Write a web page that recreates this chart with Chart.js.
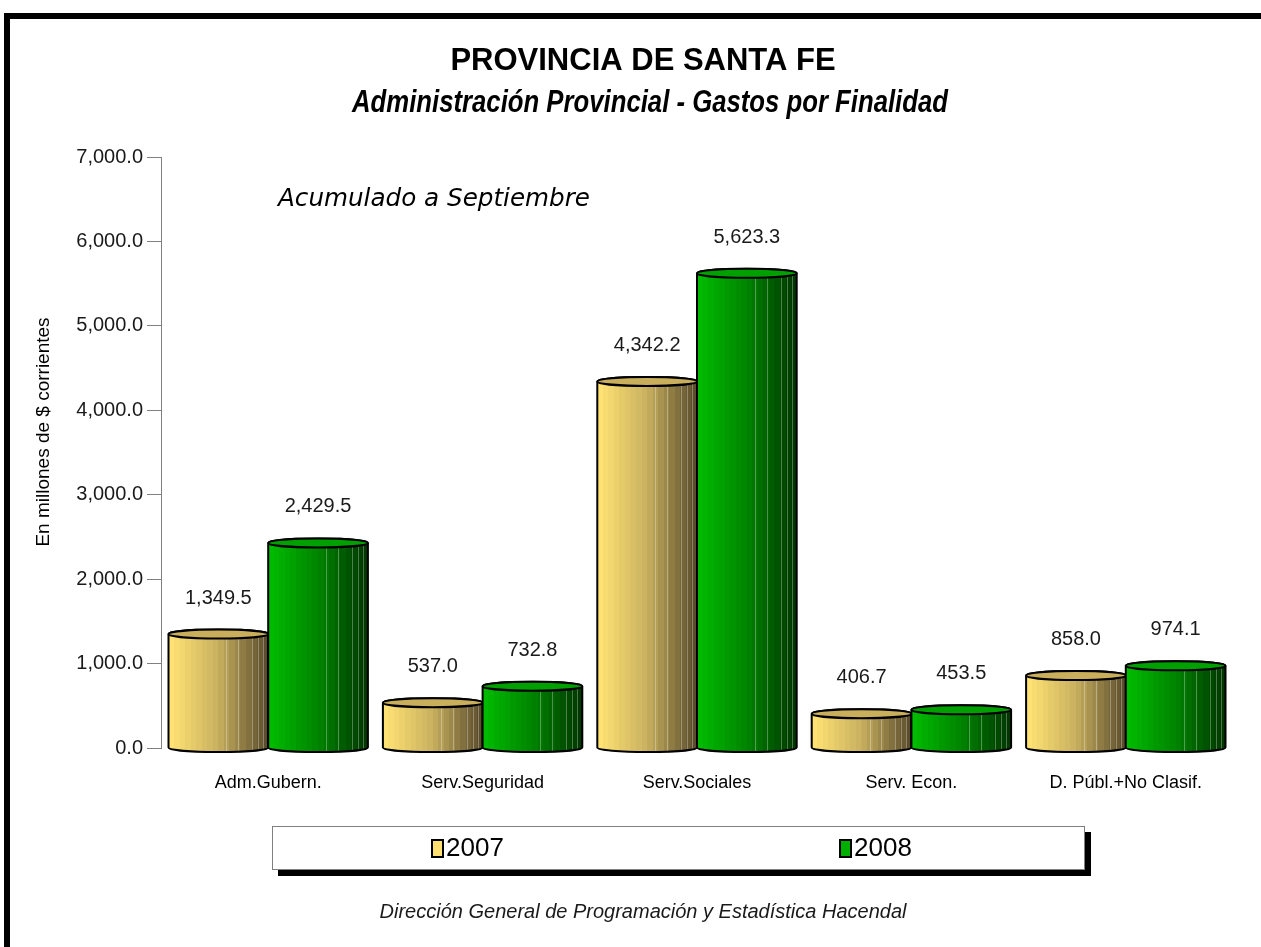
<!DOCTYPE html>
<html lang="es">
<head>
<meta charset="UTF-8" />
<title>Provincia de Santa Fe - Gastos por Finalidad</title>
<script src="https://cdn.jsdelivr.net/npm/chart.js"></script>
<style>
    body { margin: 0; background: #fff; }
    #wrap { width: 1261px; height: 947px; }
</style>
</head>
<body>
<div id="wrap"><canvas id="chart" width="1261" height="947"></canvas></div>
<script>
    const categories = ['Adm.Gubern.', 'Serv.Seguridad', 'Serv.Sociales', 'Serv. Econ.', 'D. Públ.+No Clasif.'];
    const values2007 = [1349.5, 537.0, 4342.2, 406.7, 858.0];
    const values2008 = [2429.5, 732.8, 5623.3, 453.5, 974.1];
    const seriesLabels = ['2007', '2008'];
    const yTicks = [0, 1000, 2000, 3000, 4000, 5000, 6000, 7000];

    const ARIAL = '"Liberation Sans", Arial, sans-serif';

    // colours per series: light / mid / dark for the cylinder shading, top lid, legend swatch
    const palette = [
        { light: [255, 226, 115], mid: [200, 176, 96], dark: [92, 78, 44], top: '#c9ae5c', swatch: '#ffe070' },
        { light: [0, 186, 0], mid: [0, 132, 0], dark: [0, 56, 0], top: '#00a000', swatch: '#00b000' }
    ];
    // thin highlight lines on the cylinders (fraction of bar width)
    const streaks = [0.58, 0.7, 0.84, 0.9, 0.95];

    function fmt(v) {
        return v.toLocaleString('en-US', { minimumFractionDigits: 1, maximumFractionDigits: 1 });
    }

    function mix(a, b, t) {
        return `rgb(${a.map((c, i) => Math.round(c + (b[i] - c) * t)).join(',')})`;
    }

    // banded horizontal gradient, looks like the old 3D cylinder rendering
    function cylGradient(ctx, left, right, p) {
        const g = ctx.createLinearGradient(left, 0, right, 0);
        const bands = 18;
        for (let i = 0; i < bands; i++) {
            const t = i / (bands - 1);
            const col = t < 0.5 ? mix(p.light, p.mid, t * 2) : mix(p.mid, p.dark, (t - 0.5) * 2);
            g.addColorStop(i / bands, col);
            g.addColorStop((i + 1) / bands - 0.001, col);
        }
        return g;
    }

    function bodyPath(ctx, bar, ry) {
        const left = bar.x - bar.width / 2, right = bar.x + bar.width / 2;
        const rx = bar.width / 2;
        ctx.beginPath();
        ctx.moveTo(left, bar.y);
        ctx.lineTo(left, bar.base);
        ctx.ellipse(bar.x, bar.base, rx, ry, 0, Math.PI, 0, true);
        ctx.lineTo(right, bar.y);
        ctx.ellipse(bar.x, bar.y, rx, ry, 0, 0, Math.PI, true);
        ctx.closePath();
    }

    const cylinders = {
        id: 'cylinders',
        afterDatasetsDraw(chart) {
            const ctx = chart.ctx;
            const ry = 4.5;
            chart.data.datasets.forEach((ds, di) => {
                const p = palette[di];
                chart.getDatasetMeta(di).data.forEach((bar, i) => {
                    const left = bar.x - bar.width / 2, right = bar.x + bar.width / 2;
                    ctx.save();
                    bodyPath(ctx, bar, ry);
                    ctx.fillStyle = cylGradient(ctx, left, right, p);
                    ctx.fill();
                    ctx.save();
                    ctx.clip();
                    ctx.strokeStyle = 'rgba(255,255,255,0.3)';
                    ctx.lineWidth = 1;
                    streaks.forEach(f => {
                        const sx = Math.round(left + f * bar.width) + 0.5;
                        ctx.beginPath();
                        ctx.moveTo(sx, bar.y);
                        ctx.lineTo(sx, bar.base + ry);
                        ctx.stroke();
                    });
                    ctx.restore();
                    bodyPath(ctx, bar, ry);
                    ctx.lineWidth = 2;
                    ctx.strokeStyle = '#000';
                    ctx.stroke();
                    // lid
                    ctx.beginPath();
                    ctx.ellipse(bar.x, bar.y, bar.width / 2, ry, 0, 0, Math.PI * 2);
                    ctx.fillStyle = p.top;
                    ctx.fill();
                    ctx.stroke();
                    // value label
                    ctx.fillStyle = '#1a1a1a';
                    ctx.font = '20px ' + ARIAL;
                    ctx.textAlign = 'center';
                    ctx.textBaseline = 'middle';
                    ctx.fillText(fmt(ds.data[i]), bar.x, bar.y - 36);
                    ctx.restore();
                });
            });
        }
    };

    function fitText(ctx, text, cx, cy, width) {
        const w = ctx.measureText(text).width;
        ctx.save();
        ctx.translate(cx, cy);
        ctx.scale(width / w, 1);
        ctx.fillText(text, 0, 0);
        ctx.restore();
    }

    const decorations = {
        id: 'decorations',
        beforeDraw(chart) {
            const ctx = chart.ctx;
            ctx.save();
            ctx.fillStyle = '#fff';
            ctx.fillRect(0, 0, chart.width, chart.height);
            // frame
            ctx.fillStyle = '#000';
            ctx.fillRect(4, 13, chart.width - 4, 6);
            ctx.fillRect(4, 13, 6, chart.height - 13);

            ctx.textAlign = 'center';
            ctx.textBaseline = 'middle';
            ctx.font = 'bold 31px ' + ARIAL;
            ctx.fillText('PROVINCIA DE SANTA FE', 643, 61);
            ctx.font = 'italic bold 32px "Liberation Sans Narrow", ' + ARIAL;
            fitText(ctx, 'Administración Provincial - Gastos por Finalidad', 650, 103, 596);

            ctx.font = 'italic 24px "DejaVu Sans", sans-serif';
            fitText(ctx, 'Acumulado a Septiembre', 434, 200, 312);

            // y axis title
            ctx.save();
            ctx.translate(44, 432);
            ctx.rotate(-Math.PI / 2);
            ctx.font = '19px ' + ARIAL;
            ctx.fillText('En millones de $ corrientes', 0, 0);
            ctx.restore();

            // legend box with shadow
            ctx.fillStyle = '#000';
            ctx.fillRect(278, 832, 813, 44);
            ctx.fillStyle = '#fff';
            ctx.fillRect(272, 826, 813, 44);
            ctx.strokeStyle = '#808080';
            ctx.lineWidth = 1;
            ctx.strokeRect(272.5, 826.5, 812, 43);
            const itemX = [432, 840];
            chart.data.datasets.forEach((ds, di) => {
                ctx.fillStyle = palette[di].swatch;
                ctx.fillRect(itemX[di], 840, 11, 17);
                ctx.strokeStyle = '#000';
                ctx.lineWidth = 2;
                ctx.strokeRect(itemX[di], 840, 11, 17);
                ctx.fillStyle = '#000';
                ctx.font = '26px ' + ARIAL;
                ctx.textAlign = 'left';
                ctx.fillText(ds.label, itemX[di] + 14, 849);
            });

            ctx.textAlign = 'center';
            ctx.fillStyle = '#1a1a1a';
            ctx.font = 'italic 20px ' + ARIAL;
            ctx.fillText('Dirección General de Programación y Estadística Hacendal', 643, 912);
            ctx.restore();
        }
    };

    new Chart(document.getElementById('chart'), {
        type: 'bar',
        data: {
            labels: categories,
            datasets: [
                { label: seriesLabels[0], data: values2007, backgroundColor: 'rgba(0,0,0,0)', borderWidth: 0 },
                { label: seriesLabels[1], data: values2008, backgroundColor: 'rgba(0,0,0,0)', borderWidth: 0 }
            ]
        },
        options: {
            responsive: false,
            animation: false,
            layout: { padding: { top: 157, left: 61, right: 28, bottom: 139 } },
            datasets: { bar: { categoryPercentage: 0.93, barPercentage: 1 } },
            plugins: {
                legend: { display: false },
                tooltip: { enabled: false }
            },
            scales: {
                x: {
                    afterFit: s => { s.height = 60; },
                    grid: { display: false },
                    border: { display: false },
                    ticks: { color: '#000', font: { family: ARIAL, size: 18 }, padding: 16 }
                },
                y: {
                    min: yTicks[0],
                    max: yTicks[yTicks.length - 1],
                    afterFit: s => { s.width = 100; },
                    afterBuildTicks: s => { s.ticks = yTicks.map(v => ({ value: v })); },
                    grid: { drawOnChartArea: false, tickLength: 14, color: '#808080' },
                    border: { color: '#808080', width: 1 },
                    ticks: { color: '#1a1a1a', font: { family: ARIAL, size: 20 }, padding: 4, callback: v => fmt(v) }
                }
            }
        },
        plugins: [decorations, cylinders]
    });
</script>
</body>
</html>
